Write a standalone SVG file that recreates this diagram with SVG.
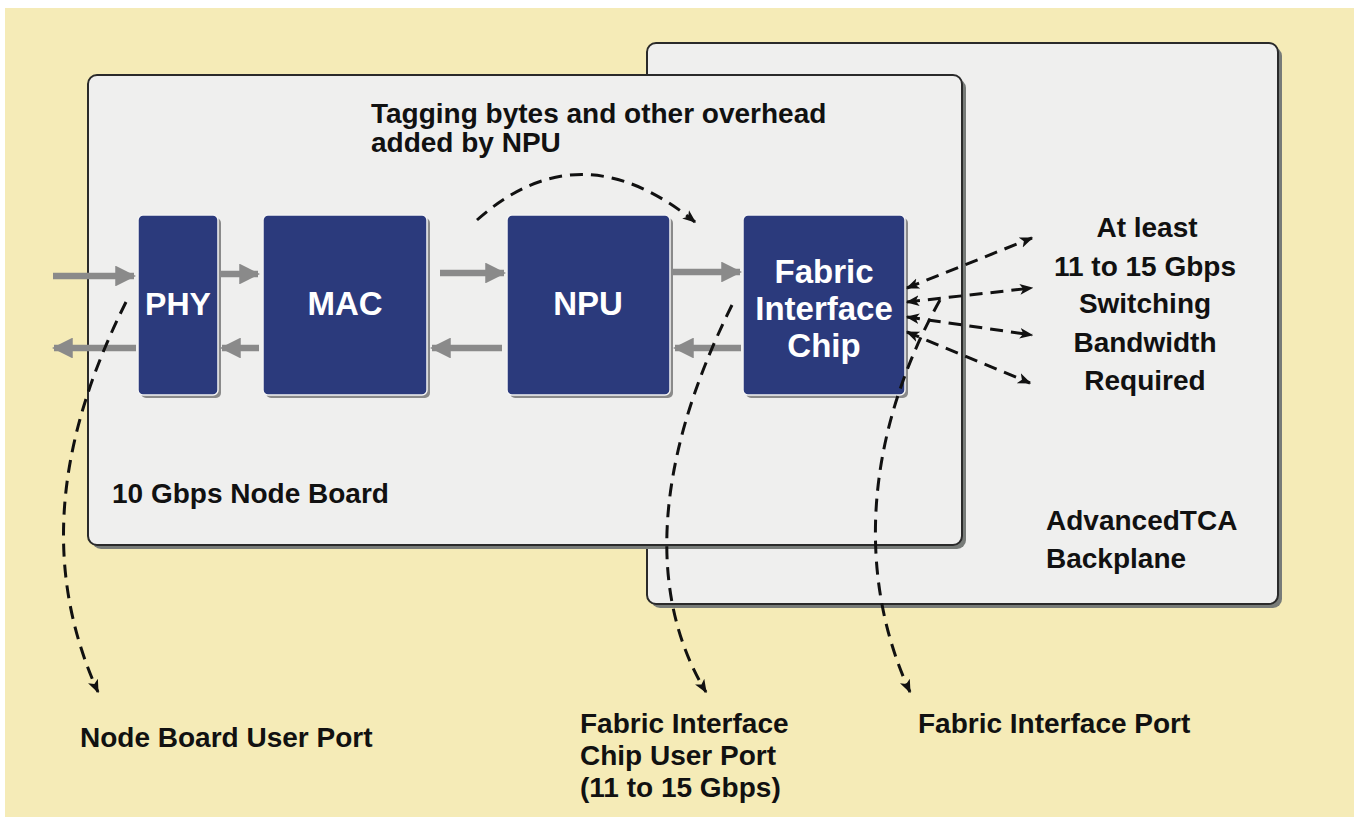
<svg xmlns="http://www.w3.org/2000/svg" width="1354" height="817" viewBox="0 0 1354 817">
<defs>
<style>
.t{font-family:"Liberation Sans",Arial,sans-serif;font-weight:bold;font-size:28px;fill:#111}
.w{font-family:"Liberation Sans",Arial,sans-serif;font-weight:bold;fill:#fff;text-anchor:middle}
.panel{fill:#efefee;stroke:#2a2a2a;stroke-width:2}
.pshadow{fill:#777b78}
.chip{fill:#2b3a7c;stroke:#f4f4f4;stroke-width:1.5}
.cshadow{fill:#8a8a8a}
.g{stroke:#8a8a8a;stroke-width:6.5;fill:none}
.d{stroke:#111;stroke-width:3;fill:none;stroke-dasharray:13 8}
</style>
<marker id="ga" viewBox="0 0 10 10" refX="9" refY="5" markerWidth="3.2" markerHeight="3.2" orient="auto" markerUnits="strokeWidth">
<path d="M0,0 L10,5 L0,10 z" fill="#8a8a8a"/>
</marker>
<marker id="da" viewBox="0 0 10 10" refX="9" refY="5" markerWidth="4.5" markerHeight="4.5" orient="auto-start-reverse" markerUnits="strokeWidth">
<path d="M0,1 L10,5 L0,9 L2.5,5 z" fill="#111"/>
</marker>
</defs>
<rect x="0" y="0" width="1354" height="817" fill="#ffffff"/>
<rect x="5" y="8" width="1349" height="809" fill="#f5ebb7"/>

<g id="backplane">
<rect class="pshadow" x="651" y="47" width="631" height="561" rx="9"/>
<rect class="panel" x="647" y="43" width="631" height="561" rx="9"/>
<text class="t" x="1046" y="530">AdvancedTCA</text>
<text class="t" x="1046" y="568">Backplane</text>
</g>

<g id="nodeboard">
<rect class="pshadow" x="92" y="79" width="874" height="470" rx="9"/>
<rect class="panel" x="88" y="75" width="874" height="470" rx="9"/>
<text class="t" x="112" y="503">10 Gbps Node Board</text>
</g>

<g id="phy">
<rect class="cshadow" x="141" y="218" width="80" height="180" rx="5"/>
<rect class="chip" x="138" y="215" width="80" height="180" rx="5"/>
<text class="w" x="178" y="315" font-size="32">PHY</text>
</g>
<g id="mac">
<rect class="cshadow" x="266" y="218" width="164" height="180" rx="5"/>
<rect class="chip" x="263" y="215" width="164" height="180" rx="5"/>
<text class="w" x="345" y="315" font-size="33">MAC</text>
</g>
<g id="npu">
<rect class="cshadow" x="510" y="218" width="163" height="180" rx="5"/>
<rect class="chip" x="507" y="215" width="163" height="180" rx="5"/>
<text class="w" x="588" y="315" font-size="33">NPU</text>
</g>
<g id="fabric">
<rect class="cshadow" x="746" y="218" width="162" height="180" rx="5"/>
<rect class="chip" x="743" y="215" width="162" height="180" rx="5"/>
<text class="w" x="824" y="283" font-size="33">Fabric</text>
<text class="w" x="824" y="320" font-size="33">Interface</text>
<text class="w" x="824" y="357" font-size="33">Chip</text>
</g>

<g id="labels">
<text class="t" x="371" y="123">Tagging bytes and other overhead</text>
<text class="t" x="371" y="152">added by NPU</text>
<text class="t" x="1147" y="237" text-anchor="middle">At least</text>
<text class="t" x="1145" y="276" text-anchor="middle">11 to 15 Gbps</text>
<text class="t" x="1145" y="313" text-anchor="middle">Switching</text>
<text class="t" x="1145" y="352" text-anchor="middle">Bandwidth</text>
<text class="t" x="1145" y="390" text-anchor="middle">Required</text>
<text class="t" x="80" y="747">Node Board User Port</text>
<text class="t" x="580" y="733">Fabric Interface</text>
<text class="t" x="580" y="765">Chip User Port</text>
<text class="t" x="580" y="797">(11 to 15 Gbps)</text>
<text class="t" x="918" y="733">Fabric Interface Port</text>
</g>

<g id="connectors">
<path class="g" d="M53,276 L134,276" marker-end="url(#ga)"/>
<path class="g" d="M220,274 L258,274" marker-end="url(#ga)"/>
<path class="g" d="M440,273 L504,273" marker-end="url(#ga)"/>
<path class="g" d="M673,272 L740,272" marker-end="url(#ga)"/>
<path class="g" d="M741,348 L675,348" marker-end="url(#ga)"/>
<path class="g" d="M502,348 L432,348" marker-end="url(#ga)"/>
<path class="g" d="M259,348 L222,348" marker-end="url(#ga)"/>
<path class="g" d="M136,348 L54,348" marker-end="url(#ga)"/>

<path class="d" d="M477,220 Q580,128 695,222" marker-end="url(#da)"/>
<path class="d" d="M126,302 C62,430 38,560 98,692" marker-end="url(#da)"/>
<path class="d" d="M732,305 C650,470 650,600 706,692" marker-end="url(#da)"/>
<path class="d" d="M940,300 C862,440 858,580 910,692" marker-end="url(#da)"/>
<path class="d" d="M907,288 L1032,238" marker-start="url(#da)" marker-end="url(#da)"/>
<path class="d" d="M907,302 L1032,288" marker-start="url(#da)" marker-end="url(#da)"/>
<path class="d" d="M907,317 L1032,335" marker-start="url(#da)" marker-end="url(#da)"/>
<path class="d" d="M907,332 L1030,383" marker-start="url(#da)" marker-end="url(#da)"/>
</g>
</svg>
